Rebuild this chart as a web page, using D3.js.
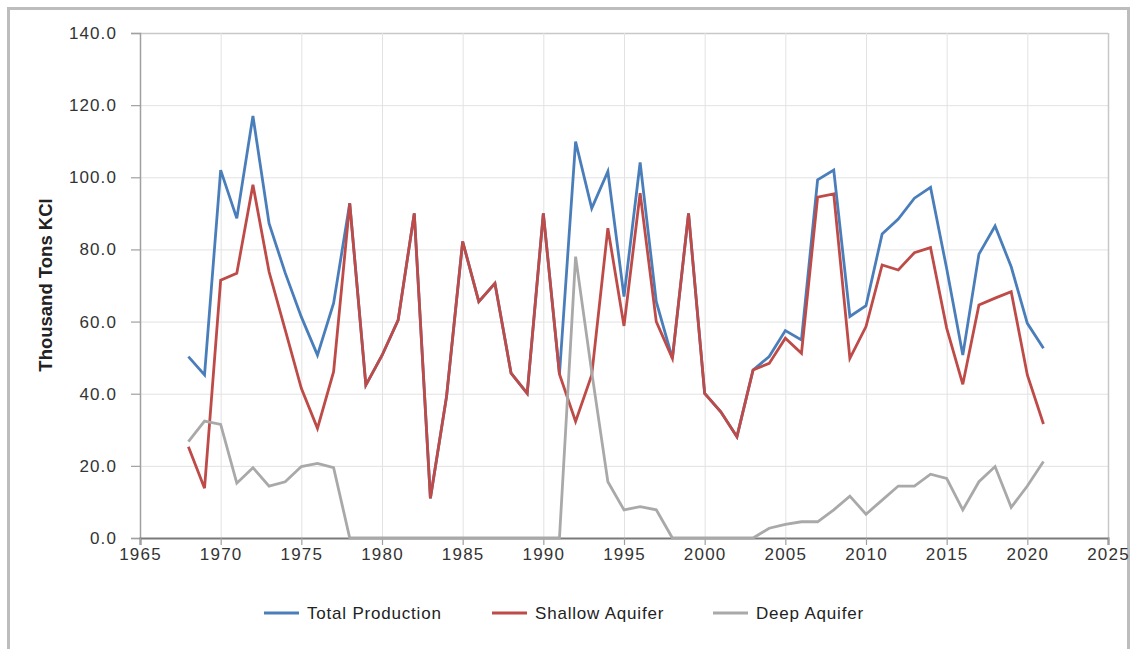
<!DOCTYPE html>
<html>
<head>
<meta charset="utf-8">
<script src="https://cdn.jsdelivr.net/npm/d3@7"></script>
<style>
  html, body { margin: 0; padding: 0; background: #fff; }
  svg { display: block; font-family: "Liberation Sans", Arial, sans-serif; }
</style>
</head>
<body>
<svg id="chart" width="1133" height="649"></svg>
<script>
// Annual production, thousand tons KCl
const years = d3.range(1968, 2022);

const totalProduction = [
  50.3, 45.2, 102.0, 88.6, 117.0, 87.2, 73.5, 61.3, 50.7, 65.1,
  92.8, 42.4, 50.6, 60.4, 90.0, 11.0, 39.2, 82.2, 65.5, 70.6,
  45.7, 40.1, 90.0, 45.4, 109.9, 91.4, 101.6, 66.9, 104.1, 65.5,
  49.8, 90.0, 40.1, 35.0, 28.1, 46.6, 50.3, 57.5, 54.9, 99.3,
  102.0, 61.4, 64.4, 84.3, 88.4, 94.2, 97.2, 74.7, 50.7, 78.7,
  86.5, 75.2, 59.5, 52.6
];

const shallowAquifer = [
  25.3, 13.8, 71.5, 73.4, 97.9, 73.8, 57.7, 41.5, 30.4, 46.1,
  92.8, 42.4, 50.6, 60.4, 90.0, 11.0, 39.2, 82.2, 65.5, 70.6,
  45.7, 40.1, 90.0, 45.4, 32.3, 45.2, 85.9, 58.8, 95.6, 60.0,
  49.8, 90.0, 40.1, 35.0, 28.1, 46.6, 48.4, 55.4, 51.2, 94.5,
  95.4, 49.8, 58.6, 75.7, 74.3, 79.1, 80.5, 58.2, 42.6, 64.6,
  66.5, 68.3, 45.2, 31.6
];

const deepAquifer = [
  26.7, 32.4, 31.5, 15.2, 19.5, 14.4, 15.6, 19.8, 20.7, 19.5,
  0, 0, 0, 0, 0, 0, 0, 0, 0, 0,
  0, 0, 0, 0, 78.0, 46.0, 15.6, 7.8, 8.7, 7.8,
  0, 0, 0, 0, 0, 0, 2.7, 3.8, 4.5, 4.5,
  7.8, 11.6, 6.6, 10.5, 14.4, 14.4, 17.7, 16.5, 7.8, 15.6,
  19.8, 8.5, 14.4, 21.2
];

const seriesNames = ["Total Production", "Shallow Aquifer", "Deep Aquifer"];
const seriesColors = ["#4a7ebb", "#be4b48", "#a9a9a9"];
const xTicks = d3.range(1965, 2026, 5);
const yTicks = d3.range(0, 141, 20);

const series = [totalProduction, shallowAquifer, deepAquifer].map((vals, i) => ({
  name: seriesNames[i],
  color: seriesColors[i],
  points: years.map((yr, j) => ({ year: yr, value: vals[j] }))
}));

const svg = d3.select("#chart");
const W = 1133, H = 649;
const plot = { left: 140, right: 1108, top: 33, bottom: 538 };

// outer frame
svg.append("rect")
  .attr("x", 8.5).attr("y", 8.5)
  .attr("width", 1120).attr("height", H + 10)
  .attr("fill", "#fff")
  .attr("stroke", "#bdbdbd")
  .attr("stroke-width", 3);

const x = d3.scaleLinear().domain([1965, 2025]).range([plot.left, plot.right]);
const y = d3.scaleLinear().domain([0, 140]).range([plot.bottom, plot.top]);

// gridlines
const grid = svg.append("g").attr("class", "grid");
grid.selectAll("line.h").data(yTicks.filter(d => d > 0)).join("line")
  .attr("x1", plot.left).attr("x2", plot.right)
  .attr("y1", d => y(d) + 0.5).attr("y2", d => y(d) + 0.5)
  .attr("stroke", d => d === 140 ? "#c8c8c8" : "#e2e2e2")
  .attr("stroke-width", d => d === 140 ? 1.5 : 1);
grid.selectAll("line.v").data(xTicks.filter(d => d > 1965)).join("line")
  .attr("x1", d => x(d) + 0.5).attr("x2", d => x(d) + 0.5)
  .attr("y1", plot.top).attr("y2", plot.bottom)
  .attr("stroke", d => d === 2025 ? "#c8c8c8" : "#e2e2e2")
  .attr("stroke-width", d => d === 2025 ? 1.5 : 1);

// y axis
const yAxis = svg.append("g")
  .attr("transform", `translate(${plot.left},0)`)
  .call(d3.axisLeft(y).tickValues(yTicks).tickFormat(d3.format(".1f")).tickSize(9).tickPadding(14));
yAxis.select(".domain").attr("stroke", "#a0a0a0").attr("stroke-width", 1.5);
yAxis.selectAll(".tick line").attr("stroke", "#a0a0a0").attr("stroke-width", 1.2);
yAxis.selectAll(".tick text")
  .attr("fill", "#333").attr("font-size", 17).attr("letter-spacing", 1.1);

// x axis
const xAxis = svg.append("g")
  .attr("transform", `translate(0,${plot.bottom})`)
  .call(d3.axisBottom(x).tickValues(xTicks).tickFormat(d3.format("d")).tickSize(7).tickPadding(3));
xAxis.select(".domain").attr("stroke", "#7a7a7a").attr("stroke-width", 2);
xAxis.selectAll(".tick line").attr("stroke", "#a0a0a0").attr("stroke-width", 1.2);
xAxis.selectAll(".tick text")
  .attr("fill", "#333").attr("font-size", 17).attr("letter-spacing", 1.2);

// y axis title
svg.append("text")
  .attr("transform", `translate(52,285) rotate(-90)`)
  .attr("text-anchor", "middle")
  .attr("font-size", 18.5)
  .attr("font-weight", "bold")
  .attr("fill", "#222")
  .text("Thousand Tons KCl");

// series lines
const line = d3.line().x(d => x(d.year)).y(d => y(d.value));
svg.append("g").selectAll("path").data(series).join("path")
  .attr("d", d => line(d.points))
  .attr("fill", "none")
  .attr("stroke", d => d.color)
  .attr("stroke-width", 2.8)
  .attr("stroke-linejoin", "miter")
  .attr("stroke-miterlimit", 4);

// legend
const legendX = [264, 492, 713];
const legend = svg.append("g").selectAll("g").data(series).join("g")
  .attr("transform", (d, i) => `translate(${legendX[i]},613)`);
legend.append("line")
  .attr("x1", 0).attr("x2", 35).attr("y1", 0).attr("y2", 0)
  .attr("stroke", d => d.color).attr("stroke-width", 3);
legend.append("text")
  .attr("x", 43).attr("y", 0).attr("dy", "0.35em")
  .attr("font-size", 17).attr("letter-spacing", 0.8).attr("fill", "#222")
  .text(d => d.name);
</script>
</body>
</html>
